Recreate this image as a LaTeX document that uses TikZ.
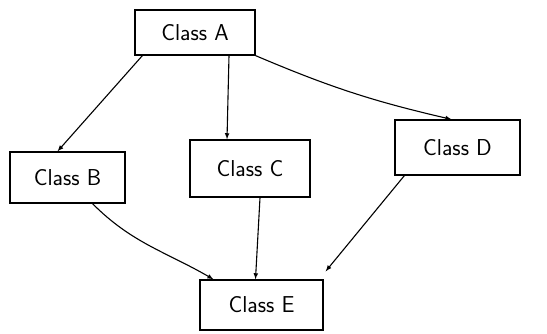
\documentclass[tikz,border=0pt]{standalone}
\usetikzlibrary{arrows}
\begin{document}
\begin{tikzpicture}[
		x=1pt,
		y=1pt,
		classbox/.style={
				draw=black,
				line width=1.3pt,
				shape=rectangle,
				font=\fontsize{23}{27}\selectfont\sffamily,
				inner sep=0pt
			},
		link/.style={
				draw,
				->,
				>=latex,
				line width=1.1pt
			},
	]
	\useasboundingbox (0,0) rectangle (547,333);
	\node [classbox, minimum width=120, minimum height=45] (A) at (195, 300.5) {Class A};
	\node [classbox, minimum width=115, minimum height=51] (B) at (67.5, 155.5) {Class B};
	\node [classbox, minimum width=120, minimum height=57] (C) at (250, 164.5) {Class C};
	\node [classbox, minimum width=125, minimum height=55] (D) at (457.5, 185.5) {Class D};
	\node [classbox, minimum width=123, minimum height=50] (E) at (261.5, 28) {Class E};
	\draw [link] ([xshift=8]A.south west) -- ([xshift=-10]B.north);
	\draw [link] ([xshift=34]A.south) -- ([xshift=-23]C.north);
	\draw [link] (A.south east) to[bend right=5] ([xshift=-6]D.north);
	\draw [link] ([xshift=25]B.south) to[out=-45,in=150] ([xshift=-48]E.north);
	\draw [link] ([xshift=10]C.south) -- ([xshift=-6]E.north);
	\draw [link] ([xshift=10]D.south west) -- ([shift={(2,8)}]E.north east);
\end{tikzpicture}
\end{document}
